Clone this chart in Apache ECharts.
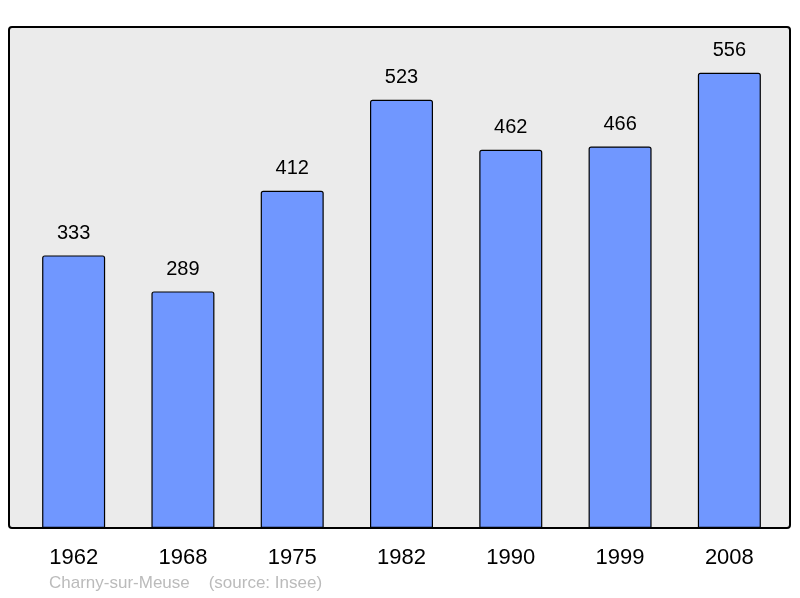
<!DOCTYPE html>
<html>
<head>
<meta charset="utf-8">
<script src="https://cdn.jsdelivr.net/npm/echarts@6/dist/echarts.min.js"></script>
<style>
  html, body { margin: 0; padding: 0; background: #fff; }
  #chart { width: 800px; height: 598px; }
</style>
</head>
<body>
<div id="chart"></div>
<script>
const years = ['1962', '1968', '1975', '1982', '1990', '1999', '2008'];
const population = [333, 289, 412, 523, 462, 466, 556];
const footer = 'Charny-sur-Meuse    (source: Insee)';

const chart = echarts.init(document.getElementById('chart'));

chart.setOption({
  animation: false,
  textStyle: { fontFamily: 'Liberation Sans, Arial, sans-serif' },
  grid: { left: 19, right: 16, top: 27, bottom: 70 },
  graphic: [
    {
      type: 'rect',
      z: -10,
      shape: { x: 9, y: 27, width: 781, height: 501, r: 3 },
      style: { fill: '#ebebeb', stroke: '#000', lineWidth: 2 }
    },
    {
      type: 'text',
      left: 49,
      top: 575,
      style: {
        text: footer,
        fill: '#bbbbbb',
        font: '17px Liberation Sans, Arial, sans-serif'
      }
    }
  ],
  xAxis: {
    type: 'category',
    data: years,
    axisLine: { show: false },
    axisTick: { show: false },
    axisLabel: { color: '#000', fontSize: 22, margin: 19 }
  },
  yAxis: {
    type: 'value',
    min: 0,
    max: 612,
    show: false
  },
  series: [{
    type: 'bar',
    data: population,
    barWidth: 63,
    itemStyle: {
      color: '#7097ff',
      borderColor: '#000',
      borderWidth: 1.2,
      borderRadius: [2, 2, 0, 0]
    },
    label: {
      show: true,
      position: 'top',
      distance: 12,
      color: '#000',
      fontSize: 20
    }
  }]
});
</script>
</body>
</html>
